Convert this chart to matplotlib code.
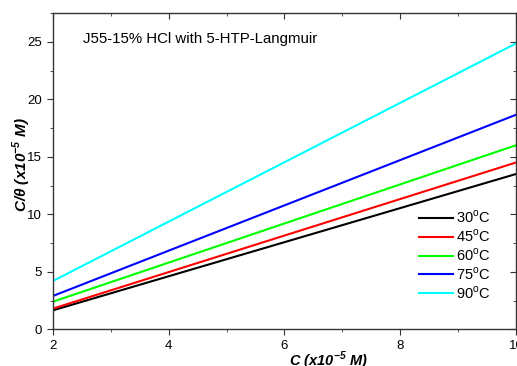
import matplotlib.pyplot as plt
from matplotlib.ticker import MultipleLocator

plt.rcParams['font.family'] = ['Liberation Sans', 'DejaVu Sans']
plt.rcParams['mathtext.fontset'] = 'custom'
plt.rcParams['mathtext.rm'] = 'Liberation Sans'
plt.rcParams['mathtext.bf'] = 'Liberation Sans:bold:italic'

# fitted Langmuir lines, read at C = 2 and C = 10
conc = [2, 10]
temps = ['30', '45', '60', '75', '90']
fits = {
    '30': [1.65, 13.5],
    '45': [1.8, 14.5],
    '60': [2.4, 16.0],
    '75': [2.9, 18.65],
    '90': [4.2, 24.85],
}
colors = ['black', '#ff0000', '#00ff00', '#0000ff', '#00ffff']

fig = plt.figure(figsize=(5.17, 3.66), dpi=100)
ax = fig.add_axes([0.1025, 0.1003, 0.8955, 0.8642])

for t, c in zip(temps, colors):
    ax.plot(conc, fits[t], color=c, lw=1.5, label=t + r'$^{\rm o}$C')

ax.set_xlim(2, 10)
ax.set_ylim(0, 27.5)
ax.xaxis.set_major_locator(MultipleLocator(2))
ax.xaxis.set_minor_locator(MultipleLocator(1))
ax.yaxis.set_major_locator(MultipleLocator(5))
ax.yaxis.set_minor_locator(MultipleLocator(2.5))

gray = '#333333'
for s in ax.spines.values():
    s.set_color(gray)
    s.set_linewidth(1.0)

ax.tick_params(which='both', bottom=True, left=True, top=True, right=True,
               labeltop=False, labelright=False, colors=gray, labelsize=9.5)
ax.tick_params(axis='both', which='both', direction='out')
ax.tick_params(which='major', length=4.5)
ax.tick_params(which='minor', length=2.5)
# top and right ticks point inward
for tk in ax.xaxis.get_major_ticks() + ax.xaxis.get_minor_ticks():
    tk.tick2line.set_marker(3)
for tk in ax.yaxis.get_major_ticks() + ax.yaxis.get_minor_ticks():
    tk.tick2line.set_marker(0)
for lab in ax.get_xticklabels() + ax.get_yticklabels():
    lab.set_color('black')

ax.text(2.52, 25.2, 'J55-15% HCl with 5-HTP-Langmuir', fontsize=10.8,
        va='center', ha='left')

fig.text(0.042, 0.55, r'C/θ (x10$^{\mathbf{-5}}$ M)', rotation=90,
         fontsize=11, fontweight='bold', fontstyle='italic',
         ha='center', va='center')
fig.text(0.636, 0.013, r'C (x10$^{\mathbf{-5}}$ M)',
         fontsize=10.5, fontweight='bold', fontstyle='italic',
         ha='center', va='center')

leg = ax.legend(loc='lower right', bbox_to_anchor=(0.96, 0.065), frameon=False,
                fontsize=10.5, handlelength=2.3, handletextpad=0.2,
                labelspacing=0.15, borderpad=0)

plt.savefig('out.png', dpi=100)
